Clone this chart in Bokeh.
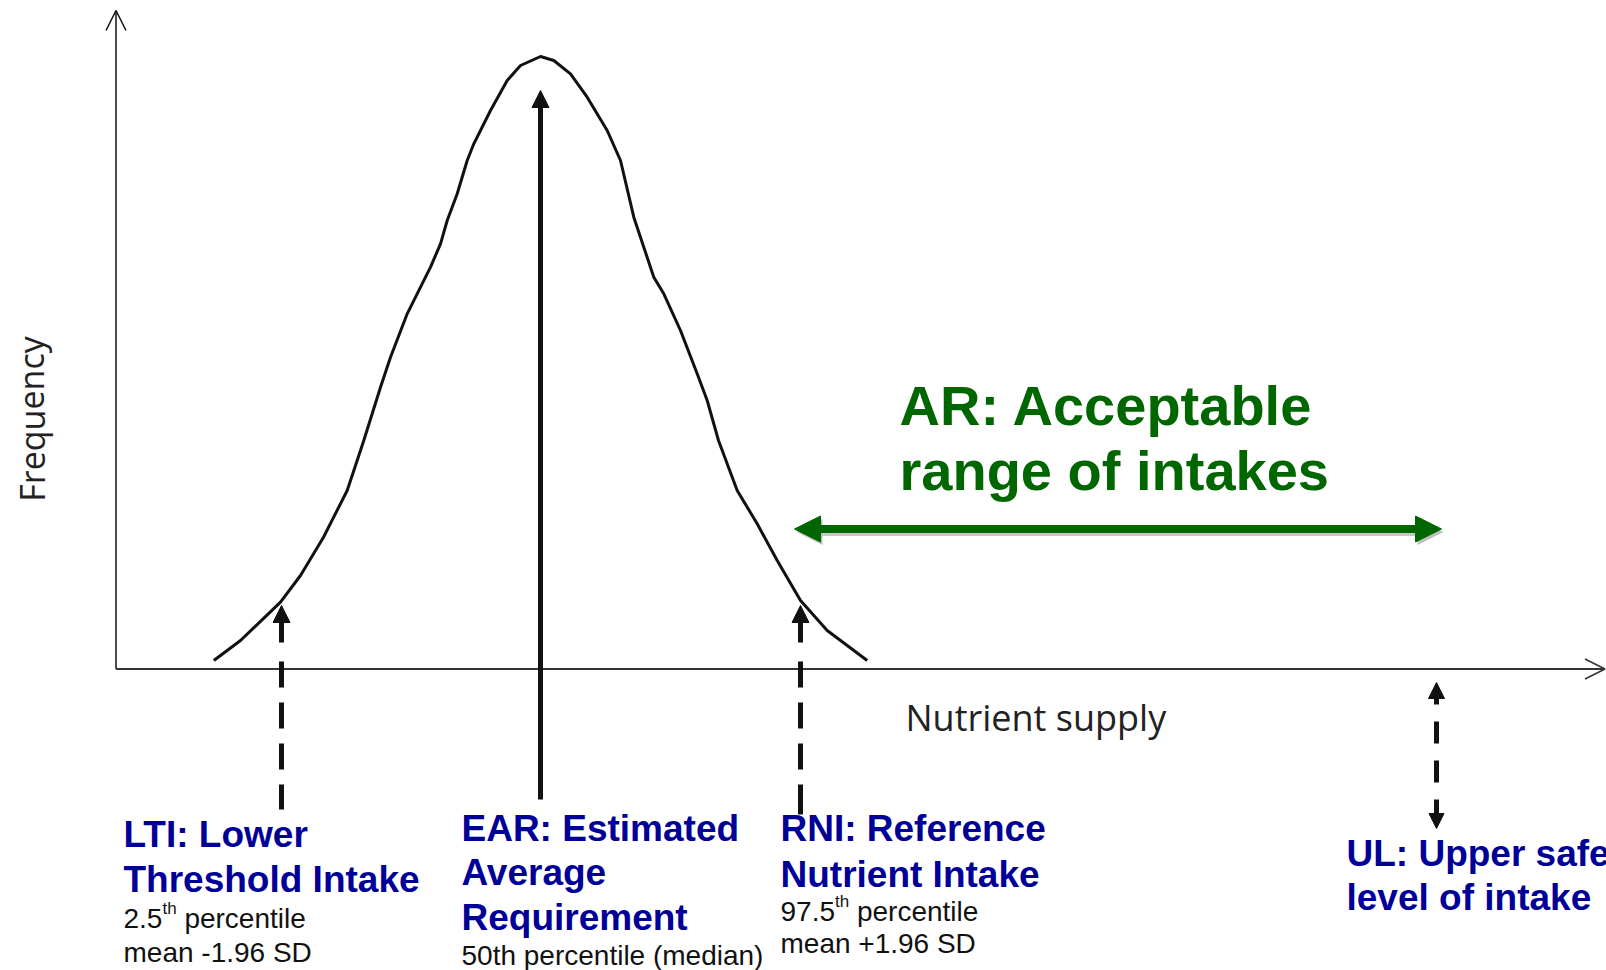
from bokeh.plotting import figure
from bokeh.models import Arrow, NormalHead, OpenHead, Range1d, ColumnDataSource
from bokeh.core.properties import value
from bokeh.embed import file_html
from bokeh.resources import INLINE

# ---------------- data (x = nutrient supply, y = frequency; origin at the axes) ----
curve_x = [97.8, 124.5, 164.5, 184.5, 207.5, 231.2, 247.8, 264.5, 274.5, 291.2,
           314.5, 324.5, 331.2, 341.2, 351.2, 357.8, 374.5, 391.2, 404.5, 424.5,
           437.8, 454.5, 471.2, 491.2, 504.5, 517.8, 537.8, 547.8, 564.5, 581.2,
           591.2, 602.5, 621.2, 641.2, 661.2, 684.5, 711.2, 751.2]
curve_y = [8.5, 28.5, 66.8, 93.5, 131.8, 178.5, 228.5, 281.8, 311.8, 355.2,
           401.8, 425.2, 448.5, 475.2, 508.5, 525.2, 558.5, 588.5, 603.5, 612.5,
           608.5, 595.2, 571.8, 538.5, 508.5, 451.8, 391.8, 375.2, 338.5, 295.2,
           268.5, 228.5, 178.5, 145.2, 108.5, 68.5, 38.5, 8.5]

marker_names = ["LTI", "EAR", "RNI", "UL"]
marker_x = [165.5, 424.5, 684.5, 1320.5]
marker_top = [63.5, 578.5, 63.5, -13.5]
marker_bottom = [-140.5, -130.5, -145.5, -159.5]

ar_start, ar_end, ar_level = 678.5, 1325.5, 140.0

axis_x_end = 1489.0
axis_y_end = 658.5

title_lines = {
    "LTI": ["LTI: Lower", "Threshold Intake"],
    "EAR": ["EAR: Estimated", "Average", "Requirement"],
    "RNI": ["RNI: Reference", "Nutrient Intake"],
    "UL": ["UL: Upper safe", "level of intake"],
}
# (number, superscript, rest) for small notes
note_lines = {
    "LTI": [("2.5", "th", "percentile"), ("mean -1.96 SD", "", "")],
    "EAR": [("50th percentile (median)", "", "")],
    "RNI": [("97.5", "th", "percentile"), ("mean +1.96 SD", "", "")],
    "UL": [],
}
ar_lines = ["AR: Acceptable", "range of intakes"]
x_label = "Nutrient supply"
y_label = "Frequency"

# ---------------- layout / style -------------------------------------------------
BLUE = "#000099"
GREEN = "#006600"
BLACK = "#111111"
SHIFT = 0.33  # baseline correction, fraction of font size

label_x = {"LTI": 7.5, "EAR": 345.5, "RNI": 664.5, "UL": 1230.5}
title_top = {"LTI": -177.5, "EAR": -171.5, "RNI": -171.5, "UL": -196.5}
title_step = {"LTI": 45, "EAR": 44.5, "RNI": 46, "UL": 44}
note_top = {"LTI": -258.5, "EAR": -295.5, "RNI": -251.5}
note_step = {"LTI": 34, "EAR": 34, "RNI": 32}
TITLE_PX, NOTE_PX, SUP_PX, AR_PX, AX_PX = 37, 28, 17, 56, 36

dash_patterns = {"LTI": "37 19 26 15 26 15 26 15 25 60",
                 "RNI": "37 19 26 15 26 15 26 15 30 60"}

p = figure(width=1606, height=970,
           x_range=Range1d(-115.5, 1490.5), y_range=Range1d(-301.5, 668.5),
           output_backend="svg", toolbar_location=None,
           x_axis_location=None, y_axis_location=None,
           min_border=0, min_border_left=0, min_border_right=0,
           min_border_top=0, min_border_bottom=0)
p.grid.visible = False
p.outline_line_color = None
p.background_fill_color = "white"
p.border_fill_color = "white"

# axes as arrows
p.add_layout(Arrow(end=OpenHead(size=20, line_width=1.5, line_color=BLACK),
                   x_start=0, y_start=0, x_end=0, y_end=axis_y_end,
                   line_width=1.5, line_color=BLACK))
p.add_layout(Arrow(end=OpenHead(size=20, line_width=1.5, line_color="#333333"),
                   x_start=0, y_start=0, x_end=axis_x_end, y_end=0,
                   line_width=2, line_color="#333333"))

# distribution curve
p.line(curve_x, curve_y, line_color=BLACK, line_width=3, line_join="round")

# marker arrows
for name, mx, top, bot in zip(marker_names, marker_x, marker_top, marker_bottom):
    if name == "EAR":
        p.add_layout(Arrow(end=NormalHead(size=17, fill_color=BLACK, line_color=BLACK, line_width=1),
                           x_start=mx, y_start=bot, x_end=mx, y_end=top,
                           line_width=5, line_color=BLACK))
    elif name == "UL":
        p.add_layout(Arrow(start=NormalHead(size=16, fill_color=BLACK, line_color=BLACK, line_width=1),
                           end=NormalHead(size=15, fill_color=BLACK, line_color=BLACK, line_width=1),
                           x_start=mx, y_start=top, x_end=mx, y_end=bot,
                           line_width=5, line_color=BLACK, line_dash="22 17"))
    else:
        p.add_layout(Arrow(start=NormalHead(size=17, fill_color=BLACK, line_color=BLACK, line_width=1),
                           end=None,
                           x_start=mx, y_start=top, x_end=mx, y_end=bot,
                           line_width=5, line_color=BLACK, line_dash=dash_patterns[name]))

# acceptable range double arrow (with soft shadow)
p.add_layout(Arrow(start=NormalHead(size=26, fill_color="#444444", line_color="#444444", fill_alpha=0.35, line_alpha=0.0),
                   end=NormalHead(size=26, fill_color="#444444", line_color="#444444", fill_alpha=0.35, line_alpha=0.0),
                   x_start=ar_start + 2, y_start=ar_level - 3, x_end=ar_end + 2, y_end=ar_level - 3,
                   line_width=8, line_color="#444444", line_alpha=0.3))
p.add_layout(Arrow(start=NormalHead(size=26, fill_color=GREEN, line_color=GREEN, line_width=1),
                   end=NormalHead(size=26, fill_color=GREEN, line_color=GREEN, line_width=1),
                   x_start=ar_start, y_start=ar_level, x_end=ar_end, y_end=ar_level,
                   line_width=8, line_color=GREEN))

# ---------------- texts ----------------------------------------------------------
FONT = value("Liberation Sans")

# blue titles
bt = dict(x=[], y=[], text=[])
for name in marker_names:
    for i, line in enumerate(title_lines[name]):
        bt["x"].append(label_x[name])
        bt["y"].append(title_top[name] - i * title_step[name] + SHIFT * TITLE_PX)
        bt["text"].append(line)
p.text(x="x", y="y", text="text", source=ColumnDataSource(bt),
       text_font=FONT, text_font_style="bold", text_font_size=f"{TITLE_PX}px",
       text_color=BLUE, text_baseline="alphabetic", text_align="left")

# notes with superscripts
ARIAL_W = {"0": .556, "1": .556, "2": .556, "3": .556, "4": .556, "5": .556,
           "6": .556, "7": .556, "8": .556, "9": .556, ".": .278, "t": .278, "h": .556,
           " ": .278}
nt = dict(x=[], y=[], text=[])
st = dict(x=[], y=[], text=[])
for name in marker_names:
    for i, (a, sup, rest) in enumerate(note_lines[name]):
        x0 = label_x[name]
        y0 = note_top[name] - i * note_step[name] + SHIFT * NOTE_PX
        nt["x"].append(x0); nt["y"].append(y0); nt["text"].append(a)
        if sup:
            wa = sum(ARIAL_W.get(c, .556) for c in a) * NOTE_PX
            ws = sum(ARIAL_W.get(c, .556) for c in sup) * SUP_PX
            st["x"].append(x0 + wa); st["y"].append(y0 + 10); st["text"].append(sup)
            nt["x"].append(x0 + wa + ws + ARIAL_W[" "] * NOTE_PX)
            nt["y"].append(y0); nt["text"].append(rest)
p.text(x="x", y="y", text="text", source=ColumnDataSource(nt),
       text_font=FONT, text_font_size=f"{NOTE_PX}px", text_color=BLACK,
       text_baseline="alphabetic", text_align="left")
p.text(x="x", y="y", text="text", source=ColumnDataSource(st),
       text_font=FONT, text_font_size=f"{SUP_PX}px", text_color=BLACK,
       text_baseline="alphabetic", text_align="left")

# AR title
ar_y = [243.5 + SHIFT * AR_PX + 2, 178.5 + SHIFT * AR_PX + 2]
p.text(x=[783.5, 783.5], y=ar_y, text=ar_lines,
       text_font=FONT, text_font_style="bold", text_font_size=f"{AR_PX}px",
       text_color=GREEN, text_baseline="alphabetic", text_align="left")

# axis titles
p.text(x=[789.5], y=[-60.5 + SHIFT * AX_PX], text=[x_label], text_font=value("Open Sans"),
       text_font_size=f"{AX_PX}px", text_color="#222222",
       text_baseline="alphabetic", text_align="left")
p.text(x=[-84.5], y=[250.0], text=[y_label], text_font=value("Open Sans"),
       text_font_size="34px", text_color="#222222", angle=1.5708,
       text_baseline="alphabetic", text_align="center")

open("out.html", "w").write(file_html(p, INLINE))
